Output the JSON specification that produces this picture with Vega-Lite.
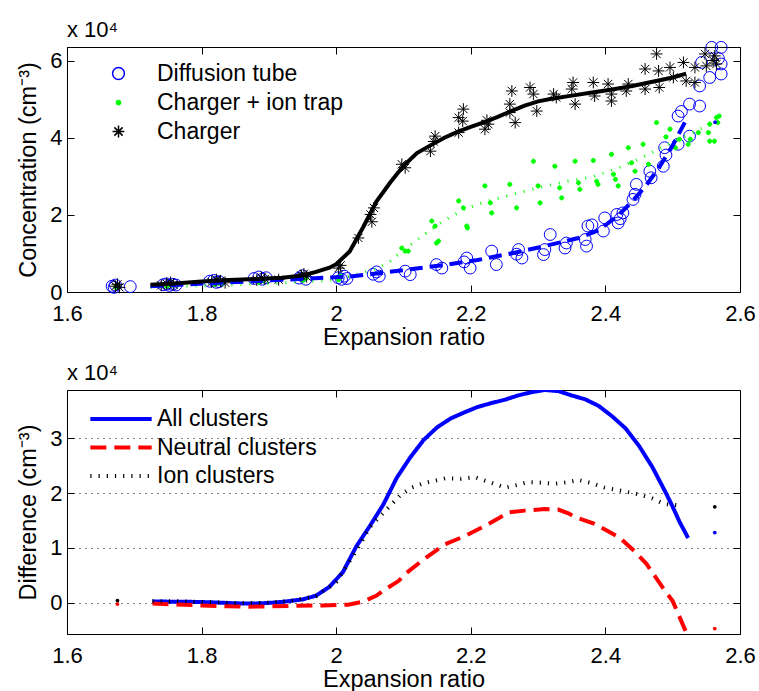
{
  "$schema": "https://vega.github.io/schema/vega-lite/v6.json",
  "padding": {"left": 16, "top": 18, "right": 5, "bottom": 0},
  "bounds": "flush",
  "spacing": 98,
  "resolve": {
    "scale": {"stroke": "independent", "fill": "independent", "shape": "independent", "color": "independent", "strokeDash": "independent", "size": "independent"},
    "legend": {"stroke": "independent", "fill": "independent", "shape": "independent", "color": "independent", "strokeDash": "independent", "size": "independent"}
  },
  "config": {
    "font": "Liberation Sans",
    "view": {"stroke": "black", "strokeWidth": 1},
    "axis": {"domainColor": "black", "tickColor": "black", "labelColor": "black", "titleColor": "black", "labelFontSize": 22, "titleFontSize": 23.5, "titleFontWeight": "normal", "labelFont": "Liberation Sans", "titleFont": "Liberation Sans", "tickSize": -7, "grid": false, "labelPadding": 18, "labelFlush": false, "labelOverlap": false},
    "title": {"fontSize": 22, "fontWeight": "normal", "font": "Liberation Sans", "anchor": "start", "frame": "group", "offset": -3, "color": "black"},
    "legend": {"labelFontSize": 23, "labelFont": "Liberation Sans", "labelColor": "black", "padding": 0, "labelLimit": 0}
  },
  "datasets": {
    "fits": [
      {"series": "Charger", "x": 1.724, "y": 1900}, {"series": "Charger", "x": 1.76, "y": 2200}, {"series": "Charger", "x": 1.8, "y": 2700}, {"series": "Charger", "x": 1.84, "y": 3100}, {"series": "Charger", "x": 1.88, "y": 3400}, {"series": "Charger", "x": 1.92, "y": 3700}, {"series": "Charger", "x": 1.95, "y": 4300}, {"series": "Charger", "x": 1.97, "y": 5200}, {"series": "Charger", "x": 1.99, "y": 6300}, {"series": "Charger", "x": 2.0, "y": 7200}, {"series": "Charger", "x": 2.02, "y": 10500}, {"series": "Charger", "x": 2.04, "y": 16800}, {"series": "Charger", "x": 2.06, "y": 23500}, {"series": "Charger", "x": 2.08, "y": 28300}, {"series": "Charger", "x": 2.1, "y": 32700}, {"series": "Charger", "x": 2.12, "y": 36000}, {"series": "Charger", "x": 2.14, "y": 38000}, {"series": "Charger", "x": 2.16, "y": 39900}, {"series": "Charger", "x": 2.18, "y": 41500}, {"series": "Charger", "x": 2.2, "y": 42800}, {"series": "Charger", "x": 2.22, "y": 44000}, {"series": "Charger", "x": 2.24, "y": 45400}, {"series": "Charger", "x": 2.26, "y": 46900}, {"series": "Charger", "x": 2.28, "y": 48300}, {"series": "Charger", "x": 2.3, "y": 49400}, {"series": "Charger", "x": 2.32, "y": 50100}, {"series": "Charger", "x": 2.35, "y": 50900}, {"series": "Charger", "x": 2.38, "y": 51700}, {"series": "Charger", "x": 2.41, "y": 52500}, {"series": "Charger", "x": 2.44, "y": 53400}, {"series": "Charger", "x": 2.47, "y": 54500}, {"series": "Charger", "x": 2.5, "y": 55600}, {"series": "Charger", "x": 2.52, "y": 56600},
      {"series": "Diffusion tube", "x": 1.724, "y": 1500}, {"series": "Diffusion tube", "x": 1.78, "y": 2000}, {"series": "Diffusion tube", "x": 1.84, "y": 2500}, {"series": "Diffusion tube", "x": 1.9, "y": 3000}, {"series": "Diffusion tube", "x": 1.96, "y": 3500}, {"series": "Diffusion tube", "x": 2.02, "y": 4000}, {"series": "Diffusion tube", "x": 2.06, "y": 4800}, {"series": "Diffusion tube", "x": 2.11, "y": 5900}, {"series": "Diffusion tube", "x": 2.16, "y": 7000}, {"series": "Diffusion tube", "x": 2.21, "y": 8300}, {"series": "Diffusion tube", "x": 2.26, "y": 10000}, {"series": "Diffusion tube", "x": 2.31, "y": 11900}, {"series": "Diffusion tube", "x": 2.36, "y": 14000}, {"series": "Diffusion tube", "x": 2.39, "y": 16000}, {"series": "Diffusion tube", "x": 2.42, "y": 20000}, {"series": "Diffusion tube", "x": 2.44, "y": 23500}, {"series": "Diffusion tube", "x": 2.46, "y": 27500}, {"series": "Diffusion tube", "x": 2.48, "y": 32300}, {"series": "Diffusion tube", "x": 2.5, "y": 38000}, {"series": "Diffusion tube", "x": 2.523, "y": 45600},
      {"series": "Charger + ion trap", "x": 1.724, "y": 1300}, {"series": "Charger + ion trap", "x": 1.76, "y": 1450}, {"series": "Charger + ion trap", "x": 1.8, "y": 1600}, {"series": "Charger + ion trap", "x": 1.84, "y": 1850}, {"series": "Charger + ion trap", "x": 1.88, "y": 2100}, {"series": "Charger + ion trap", "x": 1.92, "y": 2350}, {"series": "Charger + ion trap", "x": 1.95, "y": 2600}, {"series": "Charger + ion trap", "x": 1.98, "y": 2900}, {"series": "Charger + ion trap", "x": 2.0, "y": 3300}, {"series": "Charger + ion trap", "x": 2.03, "y": 4500}, {"series": "Charger + ion trap", "x": 2.06, "y": 6000}, {"series": "Charger + ion trap", "x": 2.08, "y": 8000}, {"series": "Charger + ion trap", "x": 2.1, "y": 10800}, {"series": "Charger + ion trap", "x": 2.13, "y": 14800}, {"series": "Charger + ion trap", "x": 2.16, "y": 18500}, {"series": "Charger + ion trap", "x": 2.19, "y": 21400}, {"series": "Charger + ion trap", "x": 2.22, "y": 23300}, {"series": "Charger + ion trap", "x": 2.26, "y": 25200}, {"series": "Charger + ion trap", "x": 2.3, "y": 27000}, {"series": "Charger + ion trap", "x": 2.34, "y": 28600}, {"series": "Charger + ion trap", "x": 2.38, "y": 29800}, {"series": "Charger + ion trap", "x": 2.42, "y": 32200}, {"series": "Charger + ion trap", "x": 2.45, "y": 34500}, {"series": "Charger + ion trap", "x": 2.48, "y": 37100}, {"series": "Charger + ion trap", "x": 2.51, "y": 39700}, {"series": "Charger + ion trap", "x": 2.54, "y": 42200}, {"series": "Charger + ion trap", "x": 2.565, "y": 44000}
    ],
    "scatter": [
      {"series": "Diffusion tube", "x": 1.667, "y": 1500}, {"series": "Diffusion tube", "x": 1.672, "y": 1800}, {"series": "Diffusion tube", "x": 1.694, "y": 1400}, {"series": "Diffusion tube", "x": 1.67, "y": 1200}, {"series": "Diffusion tube", "x": 1.743, "y": 1900}, {"series": "Diffusion tube", "x": 1.748, "y": 2100}, {"series": "Diffusion tube", "x": 1.752, "y": 1700}, {"series": "Diffusion tube", "x": 1.757, "y": 2000}, {"series": "Diffusion tube", "x": 1.762, "y": 1800}, {"series": "Diffusion tube", "x": 1.812, "y": 2800}, {"series": "Diffusion tube", "x": 1.818, "y": 3000}, {"series": "Diffusion tube", "x": 1.822, "y": 2500}, {"series": "Diffusion tube", "x": 1.826, "y": 2700}, {"series": "Diffusion tube", "x": 1.878, "y": 3500}, {"series": "Diffusion tube", "x": 1.885, "y": 3900}, {"series": "Diffusion tube", "x": 1.89, "y": 3300}, {"series": "Diffusion tube", "x": 1.896, "y": 3700}, {"series": "Diffusion tube", "x": 1.945, "y": 3600}, {"series": "Diffusion tube", "x": 1.95, "y": 4200}, {"series": "Diffusion tube", "x": 1.955, "y": 3300}, {"series": "Diffusion tube", "x": 2.003, "y": 3700}, {"series": "Diffusion tube", "x": 2.008, "y": 3300}, {"series": "Diffusion tube", "x": 2.012, "y": 4100}, {"series": "Diffusion tube", "x": 2.016, "y": 3500}, {"series": "Diffusion tube", "x": 2.055, "y": 4600}, {"series": "Diffusion tube", "x": 2.06, "y": 5200}, {"series": "Diffusion tube", "x": 2.064, "y": 4100}, {"series": "Diffusion tube", "x": 2.1025, "y": 5400}, {"series": "Diffusion tube", "x": 2.11, "y": 4500}, {"series": "Diffusion tube", "x": 2.149, "y": 7100}, {"series": "Diffusion tube", "x": 2.157, "y": 6200}, {"series": "Diffusion tube", "x": 2.194, "y": 8800}, {"series": "Diffusion tube", "x": 2.199, "y": 6200}, {"series": "Diffusion tube", "x": 2.19, "y": 7800}, {"series": "Diffusion tube", "x": 2.231, "y": 10600}, {"series": "Diffusion tube", "x": 2.238, "y": 7100}, {"series": "Diffusion tube", "x": 2.271, "y": 11000}, {"series": "Diffusion tube", "x": 2.276, "y": 8800}, {"series": "Diffusion tube", "x": 2.268, "y": 9800}, {"series": "Diffusion tube", "x": 2.308, "y": 9700}, {"series": "Diffusion tube", "x": 2.31, "y": 11000}, {"series": "Diffusion tube", "x": 2.318, "y": 14900}, {"series": "Diffusion tube", "x": 2.34, "y": 11400}, {"series": "Diffusion tube", "x": 2.342, "y": 12700}, {"series": "Diffusion tube", "x": 2.37, "y": 13600}, {"series": "Diffusion tube", "x": 2.372, "y": 11900}, {"series": "Diffusion tube", "x": 2.374, "y": 17100}, {"series": "Diffusion tube", "x": 2.38, "y": 17400}, {"series": "Diffusion tube", "x": 2.397, "y": 15800}, {"series": "Diffusion tube", "x": 2.399, "y": 19200}, {"series": "Diffusion tube", "x": 2.417, "y": 20100}, {"series": "Diffusion tube", "x": 2.419, "y": 17900}, {"series": "Diffusion tube", "x": 2.426, "y": 20500}, {"series": "Diffusion tube", "x": 2.422, "y": 19000}, {"series": "Diffusion tube", "x": 2.446, "y": 27900}, {"series": "Diffusion tube", "x": 2.444, "y": 25300}, {"series": "Diffusion tube", "x": 2.441, "y": 24000}, {"series": "Diffusion tube", "x": 2.466, "y": 31300}, {"series": "Diffusion tube", "x": 2.468, "y": 29600}, {"series": "Diffusion tube", "x": 2.486, "y": 32600}, {"series": "Diffusion tube", "x": 2.488, "y": 37400}, {"series": "Diffusion tube", "x": 2.49, "y": 35500}, {"series": "Diffusion tube", "x": 2.508, "y": 38300}, {"series": "Diffusion tube", "x": 2.508, "y": 45600}, {"series": "Diffusion tube", "x": 2.525, "y": 40400}, {"series": "Diffusion tube", "x": 2.525, "y": 48700}, {"series": "Diffusion tube", "x": 2.54, "y": 48200}, {"series": "Diffusion tube", "x": 2.54, "y": 53400}, {"series": "Diffusion tube", "x": 2.555, "y": 55600}, {"series": "Diffusion tube", "x": 2.558, "y": 63400}, {"series": "Diffusion tube", "x": 2.572, "y": 63400}, {"series": "Diffusion tube", "x": 2.572, "y": 59100}, {"series": "Diffusion tube", "x": 2.572, "y": 56500}, {"series": "Diffusion tube", "x": 2.543, "y": 59500}, {"series": "Diffusion tube", "x": 2.568, "y": 60500}, {"series": "Diffusion tube", "x": 2.513, "y": 46800},
      {"series": "Charger + ion trap", "x": 1.672, "y": 1300}, {"series": "Charger + ion trap", "x": 1.676, "y": 1500}, {"series": "Charger + ion trap", "x": 1.748, "y": 1500}, {"series": "Charger + ion trap", "x": 1.755, "y": 1700}, {"series": "Charger + ion trap", "x": 1.82, "y": 2000}, {"series": "Charger + ion trap", "x": 1.826, "y": 2300}, {"series": "Charger + ion trap", "x": 1.885, "y": 2600}, {"series": "Charger + ion trap", "x": 1.892, "y": 2900}, {"series": "Charger + ion trap", "x": 1.95, "y": 3100}, {"series": "Charger + ion trap", "x": 1.955, "y": 3500}, {"series": "Charger + ion trap", "x": 2.0036, "y": 3200}, {"series": "Charger + ion trap", "x": 2.0066, "y": 4100}, {"series": "Charger + ion trap", "x": 2.0975, "y": 11400}, {"series": "Charger + ion trap", "x": 2.1025, "y": 10600}, {"series": "Charger + ion trap", "x": 2.107, "y": 10600}, {"series": "Charger + ion trap", "x": 2.142, "y": 18400}, {"series": "Charger + ion trap", "x": 2.147, "y": 17100}, {"series": "Charger + ion trap", "x": 2.149, "y": 12700}, {"series": "Charger + ion trap", "x": 2.152, "y": 13200}, {"series": "Charger + ion trap", "x": 2.182, "y": 23600}, {"series": "Charger + ion trap", "x": 2.189, "y": 21800}, {"series": "Charger + ion trap", "x": 2.194, "y": 17100}, {"series": "Charger + ion trap", "x": 2.195, "y": 16600}, {"series": "Charger + ion trap", "x": 2.221, "y": 27500}, {"series": "Charger + ion trap", "x": 2.229, "y": 23100}, {"series": "Charger + ion trap", "x": 2.231, "y": 20500}, {"series": "Charger + ion trap", "x": 2.258, "y": 27900}, {"series": "Charger + ion trap", "x": 2.268, "y": 21800}, {"series": "Charger + ion trap", "x": 2.293, "y": 33900}, {"series": "Charger + ion trap", "x": 2.3, "y": 27500}, {"series": "Charger + ion trap", "x": 2.303, "y": 23100}, {"series": "Charger + ion trap", "x": 2.325, "y": 32600}, {"series": "Charger + ion trap", "x": 2.332, "y": 27000}, {"series": "Charger + ion trap", "x": 2.335, "y": 24400}, {"series": "Charger + ion trap", "x": 2.355, "y": 33900}, {"series": "Charger + ion trap", "x": 2.36, "y": 28300}, {"series": "Charger + ion trap", "x": 2.362, "y": 26600}, {"series": "Charger + ion trap", "x": 2.382, "y": 34100}, {"series": "Charger + ion trap", "x": 2.387, "y": 28700}, {"series": "Charger + ion trap", "x": 2.389, "y": 27900}, {"series": "Charger + ion trap", "x": 2.409, "y": 35700}, {"series": "Charger + ion trap", "x": 2.412, "y": 30500}, {"series": "Charger + ion trap", "x": 2.415, "y": 29200}, {"series": "Charger + ion trap", "x": 2.419, "y": 27500}, {"series": "Charger + ion trap", "x": 2.434, "y": 37400}, {"series": "Charger + ion trap", "x": 2.439, "y": 33500}, {"series": "Charger + ion trap", "x": 2.444, "y": 31300}, {"series": "Charger + ion trap", "x": 2.456, "y": 38300}, {"series": "Charger + ion trap", "x": 2.464, "y": 33100}, {"series": "Charger + ion trap", "x": 2.476, "y": 43900}, {"series": "Charger + ion trap", "x": 2.49, "y": 40200}, {"series": "Charger + ion trap", "x": 2.496, "y": 42200}, {"series": "Charger + ion trap", "x": 2.504, "y": 37400}, {"series": "Charger + ion trap", "x": 2.51, "y": 39600}, {"series": "Charger + ion trap", "x": 2.523, "y": 38300}, {"series": "Charger + ion trap", "x": 2.526, "y": 39600}, {"series": "Charger + ion trap", "x": 2.538, "y": 41300}, {"series": "Charger + ion trap", "x": 2.553, "y": 41300}, {"series": "Charger + ion trap", "x": 2.555, "y": 43500}, {"series": "Charger + ion trap", "x": 2.555, "y": 39100}, {"series": "Charger + ion trap", "x": 2.562, "y": 39100}, {"series": "Charger + ion trap", "x": 2.565, "y": 45200}, {"series": "Charger + ion trap", "x": 2.567, "y": 43900}, {"series": "Charger + ion trap", "x": 2.569, "y": 45600},
      {"series": "Charger", "x": 1.672, "y": 1500}, {"series": "Charger", "x": 1.675, "y": 2000}, {"series": "Charger", "x": 1.678, "y": 1200}, {"series": "Charger", "x": 1.74, "y": 1700}, {"series": "Charger", "x": 1.748, "y": 2200}, {"series": "Charger", "x": 1.754, "y": 2500}, {"series": "Charger", "x": 1.758, "y": 1900}, {"series": "Charger", "x": 1.815, "y": 2600}, {"series": "Charger", "x": 1.822, "y": 3200}, {"series": "Charger", "x": 1.828, "y": 2900}, {"series": "Charger", "x": 1.835, "y": 2400}, {"series": "Charger", "x": 1.882, "y": 3100}, {"series": "Charger", "x": 1.889, "y": 3700}, {"series": "Charger", "x": 1.894, "y": 3400}, {"series": "Charger", "x": 1.9145, "y": 3200}, {"series": "Charger", "x": 1.948, "y": 4300}, {"series": "Charger", "x": 1.952, "y": 4700}, {"series": "Charger", "x": 1.956, "y": 4000}, {"series": "Charger", "x": 2.0036, "y": 6200}, {"series": "Charger", "x": 2.0066, "y": 6900}, {"series": "Charger", "x": 2.033, "y": 14000}, {"series": "Charger", "x": 2.051, "y": 20100}, {"series": "Charger", "x": 2.056, "y": 21800}, {"series": "Charger", "x": 2.053, "y": 18200}, {"series": "Charger", "x": 2.0975, "y": 33100}, {"series": "Charger", "x": 2.1025, "y": 32200}, {"series": "Charger", "x": 2.14, "y": 36500}, {"series": "Charger", "x": 2.147, "y": 40400}, {"series": "Charger", "x": 2.145, "y": 39000}, {"series": "Charger", "x": 2.182, "y": 45200}, {"series": "Charger", "x": 2.189, "y": 47400}, {"series": "Charger", "x": 2.188, "y": 44300}, {"series": "Charger", "x": 2.182, "y": 41300}, {"series": "Charger", "x": 2.221, "y": 42200}, {"series": "Charger", "x": 2.226, "y": 43500}, {"series": "Charger", "x": 2.224, "y": 44500}, {"series": "Charger", "x": 2.261, "y": 52100}, {"series": "Charger", "x": 2.258, "y": 48700}, {"series": "Charger", "x": 2.258, "y": 46500}, {"series": "Charger", "x": 2.266, "y": 43900}, {"series": "Charger", "x": 2.288, "y": 53000}, {"series": "Charger", "x": 2.293, "y": 51300}, {"series": "Charger", "x": 2.298, "y": 46900}, {"series": "Charger", "x": 2.323, "y": 51300}, {"series": "Charger", "x": 2.327, "y": 50400}, {"series": "Charger", "x": 2.352, "y": 54300}, {"series": "Charger", "x": 2.35, "y": 52600}, {"series": "Charger", "x": 2.355, "y": 48700}, {"series": "Charger", "x": 2.382, "y": 54300}, {"series": "Charger", "x": 2.384, "y": 50800}, {"series": "Charger", "x": 2.404, "y": 53900}, {"series": "Charger", "x": 2.409, "y": 51300}, {"series": "Charger", "x": 2.409, "y": 49500}, {"series": "Charger", "x": 2.434, "y": 53900}, {"series": "Charger", "x": 2.431, "y": 52100}, {"series": "Charger", "x": 2.459, "y": 57800}, {"series": "Charger", "x": 2.459, "y": 52600}, {"series": "Charger", "x": 2.476, "y": 61700}, {"series": "Charger", "x": 2.479, "y": 57300}, {"series": "Charger", "x": 2.48, "y": 53000}, {"series": "Charger", "x": 2.496, "y": 58200}, {"series": "Charger", "x": 2.501, "y": 55600}, {"series": "Charger", "x": 2.516, "y": 59500}, {"series": "Charger", "x": 2.52, "y": 54700}, {"series": "Charger", "x": 2.533, "y": 58200}, {"series": "Charger", "x": 2.533, "y": 54300}, {"series": "Charger", "x": 2.548, "y": 61700}, {"series": "Charger", "x": 2.55, "y": 58600}, {"series": "Charger", "x": 2.5625, "y": 61200}, {"series": "Charger", "x": 2.565, "y": 59100}, {"series": "Charger", "x": 2.56, "y": 60000}
    ],
    "topdots": [
      {"series": "Diffusion tube", "x": 2.563, "y": 44000}
    ],
    "diff": [
      {"series": "All clusters", "x": 1.727, "y": 250}, {"series": "All clusters", "x": 1.75, "y": 200}, {"series": "All clusters", "x": 1.77, "y": 200}, {"series": "All clusters", "x": 1.79, "y": 150}, {"series": "All clusters", "x": 1.81, "y": 100}, {"series": "All clusters", "x": 1.83, "y": 0}, {"series": "All clusters", "x": 1.85, "y": -100}, {"series": "All clusters", "x": 1.87, "y": -150}, {"series": "All clusters", "x": 1.89, "y": -100}, {"series": "All clusters", "x": 1.91, "y": 50}, {"series": "All clusters", "x": 1.93, "y": 300}, {"series": "All clusters", "x": 1.95, "y": 600}, {"series": "All clusters", "x": 1.97, "y": 1300}, {"series": "All clusters", "x": 1.99, "y": 2900}, {"series": "All clusters", "x": 2.01, "y": 5600}, {"series": "All clusters", "x": 2.03, "y": 10300}, {"series": "All clusters", "x": 2.05, "y": 14000}, {"series": "All clusters", "x": 2.07, "y": 17900}, {"series": "All clusters", "x": 2.09, "y": 22800}, {"series": "All clusters", "x": 2.11, "y": 26500}, {"series": "All clusters", "x": 2.13, "y": 29700}, {"series": "All clusters", "x": 2.15, "y": 32000}, {"series": "All clusters", "x": 2.17, "y": 33600}, {"series": "All clusters", "x": 2.19, "y": 34700}, {"series": "All clusters", "x": 2.21, "y": 35700}, {"series": "All clusters", "x": 2.23, "y": 36400}, {"series": "All clusters", "x": 2.25, "y": 37000}, {"series": "All clusters", "x": 2.27, "y": 37800}, {"series": "All clusters", "x": 2.29, "y": 38400}, {"series": "All clusters", "x": 2.31, "y": 38800}, {"series": "All clusters", "x": 2.33, "y": 38600}, {"series": "All clusters", "x": 2.35, "y": 37800}, {"series": "All clusters", "x": 2.37, "y": 37100}, {"series": "All clusters", "x": 2.39, "y": 35900}, {"series": "All clusters", "x": 2.41, "y": 34000}, {"series": "All clusters", "x": 2.43, "y": 31800}, {"series": "All clusters", "x": 2.45, "y": 28600}, {"series": "All clusters", "x": 2.47, "y": 24700}, {"series": "All clusters", "x": 2.49, "y": 20000}, {"series": "All clusters", "x": 2.5, "y": 17500}, {"series": "All clusters", "x": 2.51, "y": 14800}, {"series": "All clusters", "x": 2.523, "y": 11800},
      {"series": "Neutral clusters", "x": 1.727, "y": -130}, {"series": "Neutral clusters", "x": 1.76, "y": -300}, {"series": "Neutral clusters", "x": 1.8, "y": -500}, {"series": "Neutral clusters", "x": 1.84, "y": -650}, {"series": "Neutral clusters", "x": 1.865, "y": -730}, {"series": "Neutral clusters", "x": 1.9, "y": -650}, {"series": "Neutral clusters", "x": 1.94, "y": -550}, {"series": "Neutral clusters", "x": 1.98, "y": -480}, {"series": "Neutral clusters", "x": 2.018, "y": -370}, {"series": "Neutral clusters", "x": 2.04, "y": 200}, {"series": "Neutral clusters", "x": 2.06, "y": 1300}, {"series": "Neutral clusters", "x": 2.07, "y": 2200}, {"series": "Neutral clusters", "x": 2.093, "y": 4000}, {"series": "Neutral clusters", "x": 2.102, "y": 5200}, {"series": "Neutral clusters", "x": 2.13, "y": 7900}, {"series": "Neutral clusters", "x": 2.162, "y": 10700}, {"series": "Neutral clusters", "x": 2.192, "y": 12200}, {"series": "Neutral clusters", "x": 2.221, "y": 14000}, {"series": "Neutral clusters", "x": 2.24, "y": 15300}, {"series": "Neutral clusters", "x": 2.256, "y": 16500}, {"series": "Neutral clusters", "x": 2.28, "y": 16800}, {"series": "Neutral clusters", "x": 2.31, "y": 17100}, {"series": "Neutral clusters", "x": 2.33, "y": 17000}, {"series": "Neutral clusters", "x": 2.345, "y": 16300}, {"series": "Neutral clusters", "x": 2.355, "y": 15600}, {"series": "Neutral clusters", "x": 2.384, "y": 14400}, {"series": "Neutral clusters", "x": 2.4, "y": 13300}, {"series": "Neutral clusters", "x": 2.421, "y": 11900}, {"series": "Neutral clusters", "x": 2.445, "y": 9200}, {"series": "Neutral clusters", "x": 2.461, "y": 7100}, {"series": "Neutral clusters", "x": 2.485, "y": 2800}, {"series": "Neutral clusters", "x": 2.5, "y": 300}, {"series": "Neutral clusters", "x": 2.52, "y": -5400}, {"series": "Neutral clusters", "x": 2.523, "y": -6200},
      {"series": "Ion clusters", "x": 1.727, "y": 300}, {"series": "Ion clusters", "x": 1.77, "y": 250}, {"series": "Ion clusters", "x": 1.81, "y": 100}, {"series": "Ion clusters", "x": 1.85, "y": -50}, {"series": "Ion clusters", "x": 1.89, "y": -50}, {"series": "Ion clusters", "x": 1.93, "y": 300}, {"series": "Ion clusters", "x": 1.97, "y": 1200}, {"series": "Ion clusters", "x": 2.0, "y": 3800}, {"series": "Ion clusters", "x": 2.03, "y": 9500}, {"series": "Ion clusters", "x": 2.05, "y": 13800}, {"series": "Ion clusters", "x": 2.078, "y": 17400}, {"series": "Ion clusters", "x": 2.095, "y": 19600}, {"series": "Ion clusters", "x": 2.112, "y": 21000}, {"series": "Ion clusters", "x": 2.13, "y": 21800}, {"series": "Ion clusters", "x": 2.162, "y": 22700}, {"series": "Ion clusters", "x": 2.185, "y": 22600}, {"series": "Ion clusters", "x": 2.206, "y": 22900}, {"series": "Ion clusters", "x": 2.23, "y": 21900}, {"series": "Ion clusters", "x": 2.251, "y": 21000}, {"series": "Ion clusters", "x": 2.27, "y": 21500}, {"series": "Ion clusters", "x": 2.285, "y": 22000}, {"series": "Ion clusters", "x": 2.305, "y": 21900}, {"series": "Ion clusters", "x": 2.325, "y": 21700}, {"series": "Ion clusters", "x": 2.345, "y": 22000}, {"series": "Ion clusters", "x": 2.36, "y": 22400}, {"series": "Ion clusters", "x": 2.38, "y": 21800}, {"series": "Ion clusters", "x": 2.399, "y": 21000}, {"series": "Ion clusters", "x": 2.42, "y": 20500}, {"series": "Ion clusters", "x": 2.449, "y": 19800}, {"series": "Ion clusters", "x": 2.47, "y": 19000}, {"series": "Ion clusters", "x": 2.488, "y": 18000}, {"series": "Ion clusters", "x": 2.515, "y": 17700}
    ],
    "diffdots": [
      {"series": "Ion clusters", "x": 1.675, "y": 365}, {"series": "Neutral clusters", "x": 1.675, "y": -240},
      {"series": "Ion clusters", "x": 2.5625, "y": 17500}, {"series": "All clusters", "x": 2.5625, "y": 12800}, {"series": "Neutral clusters", "x": 2.5625, "y": -4700}
    ]
  },
  "vconcat": [
    {
      "width": 673,
      "height": 245,
      "title": {"text": "x 10⁴"},
      "resolve": {"axis": {"x": "independent", "y": "independent"}},
      "layer": [
        {
          "data": {"name": "scatter"},
          "mark": {"type": "point", "strokeWidth": 1, "opacity": 1, "size": 140},
          "encoding": {
            "x": {"field": "x", "type": "quantitative", "scale": {"domain": [1.6, 2.6], "nice": false, "zero": false}, "axis": null},
            "y": {"field": "y", "type": "quantitative", "scale": {"domain": [0, 63500], "nice": false}, "axis": null},
            "stroke": {"field": "series", "type": "nominal", "scale": {"domain": ["Diffusion tube", "Charger + ion trap", "Charger"], "range": ["#0000ff", "#00ff00", "#000000"]}, "legend": {"title": null, "orient": "none", "legendX": 40, "legendY": 15, "rowPadding": 5, "labelOffset": 27, "labelFontSize": 23, "symbolSize": 140, "labelLimit": 0}},
            "fill": {"field": "series", "type": "nominal", "scale": {"domain": ["Diffusion tube", "Charger + ion trap", "Charger"], "range": ["transparent", "#00ff00", "transparent"]}, "legend": {"title": null, "orient": "none", "legendX": 40, "legendY": 15, "rowPadding": 5, "labelOffset": 27, "labelFontSize": 23, "symbolSize": 140, "labelLimit": 0}},
            "shape": {"field": "series", "type": "nominal", "scale": {"domain": ["Diffusion tube", "Charger + ion trap", "Charger"], "range": ["circle", "M-0.35,0A0.35,0.35,0,1,0,0.35,0A0.35,0.35,0,1,0,-0.35,0Z", "M-1,0L1,0M0,-1L0,1M-0.7,-0.7L0.7,0.7M-0.7,0.7L0.7,-0.7"]}, "legend": {"title": null, "orient": "none", "legendX": 40, "legendY": 15, "rowPadding": 5, "labelOffset": 27, "labelFontSize": 23, "symbolSize": 140, "labelLimit": 0}}
          }
        },
        {
          "data": {"name": "fits"},
          "transform": [{"filter": "datum.series === 'Charger + ion trap'"}],
          "mark": {"type": "line", "color": "#00ff00", "strokeWidth": 3, "strokeDash": [1, 8], "strokeCap": "butt"},
          "encoding": {
            "x": {"field": "x", "type": "quantitative", "scale": {"domain": [1.6, 2.6], "nice": false, "zero": false}, "axis": null},
            "y": {"field": "y", "type": "quantitative", "scale": {"domain": [0, 63500], "nice": false}, "axis": null}
          }
        },
        {
          "data": {"name": "fits"},
          "transform": [{"filter": "datum.series === 'Diffusion tube'"}],
          "mark": {"type": "line", "color": "#0000ff", "strokeWidth": 4, "strokeDash": [13, 7], "strokeCap": "butt"},
          "encoding": {
            "x": {"field": "x", "type": "quantitative", "scale": {"domain": [1.6, 2.6], "nice": false, "zero": false}, "axis": {"orient": "top", "labels": false, "title": null, "domain": false, "values": [1.6, 1.8, 2.0, 2.2, 2.4, 2.6]}},
            "y": {"field": "y", "type": "quantitative", "scale": {"domain": [0, 63500], "nice": false}, "axis": {"orient": "right", "labels": false, "title": null, "domain": false, "values": [0, 20000, 40000, 60000]}}
          }
        },
        {
          "data": {"name": "fits"},
          "transform": [{"filter": "datum.series === 'Charger'"}],
          "mark": {"type": "line", "color": "#000000", "strokeWidth": 4},
          "encoding": {
            "x": {"field": "x", "type": "quantitative", "scale": {"domain": [1.6, 2.6], "nice": false, "zero": false}, "axis": {"orient": "bottom", "title": "Expansion ratio", "values": [1.6, 1.8, 2.0, 2.2, 2.4, 2.6], "labelExpr": "datum.value == 2 ? '2' : format(datum.value, '.1f')", "titlePadding": 1}},
            "y": {"field": "y", "type": "quantitative", "scale": {"domain": [0, 63500], "nice": false}, "axis": {"orient": "left", "title": "Concentration (cm⁻³)", "values": [0, 20000, 40000, 60000], "labelExpr": "'' + round(datum.value / 10000)", "labelPadding": 12, "titlePadding": 9}}
          }
        },
        {
          "data": {"name": "topdots"},
          "mark": {"type": "circle", "color": "#0000ff", "size": 14, "opacity": 1},
          "encoding": {
            "x": {"field": "x", "type": "quantitative", "scale": {"domain": [1.6, 2.6], "nice": false, "zero": false}, "axis": null},
            "y": {"field": "y", "type": "quantitative", "scale": {"domain": [0, 63500], "nice": false}, "axis": null}
          }
        }
      ]
    },
    {
      "width": 673,
      "height": 244,
      "title": {"text": "x 10⁴", "offset": 5},
      "resolve": {"axis": {"x": "independent", "y": "independent"}},
      "layer": [
        {
          "data": {"name": "diff"},
          "mark": {"type": "line", "strokeWidth": 4, "strokeCap": "butt", "clip": true},
          "encoding": {
            "x": {"field": "x", "type": "quantitative", "scale": {"domain": [1.6, 2.6], "nice": false, "zero": false}, "axis": {"orient": "bottom", "title": "Expansion ratio", "values": [1.6, 1.8, 2.0, 2.2, 2.4, 2.6], "labelExpr": "datum.value == 2 ? '2' : format(datum.value, '.1f')", "titlePadding": 1}},
            "y": {"field": "y", "type": "quantitative", "scale": {"domain": [-5700, 38800], "nice": false, "zero": false}, "axis": {"orient": "left", "title": "Difference (cm⁻³)", "values": [0, 10000, 20000, 30000], "labelExpr": "'' + round(datum.value / 10000)", "labelPadding": 12, "titlePadding": 9, "grid": true, "gridColor": "#000000", "gridDash": [1, 5], "gridOpacity": 1, "gridWidth": 1}},
            "color": {"field": "series", "type": "nominal", "scale": {"domain": ["All clusters", "Neutral clusters", "Ion clusters"], "range": ["#0000ff", "#ff0000", "#000000"]}, "legend": {"title": null, "orient": "none", "legendX": 41, "legendY": 16, "symbolType": "M-2.8,0L2.8,0", "symbolSize": 480, "symbolStrokeWidth": 4, "rowPadding": 3.5, "labelOffset": 23, "labelFontSize": 23, "labelLimit": 0}},
            "strokeDash": {"field": "series", "type": "nominal", "scale": {"domain": ["All clusters", "Neutral clusters", "Ion clusters"], "range": [[1, 0], [16, 8], [1.2, 7]]}, "legend": {"title": null, "orient": "none", "legendX": 41, "legendY": 16, "symbolType": "M-2.8,0L2.8,0", "symbolSize": 480, "symbolStrokeWidth": 4, "rowPadding": 3.5, "labelOffset": 23, "labelFontSize": 23, "labelLimit": 0}}
          }
        },
        {
          "data": {"name": "diffdots"},
          "mark": {"type": "circle", "size": 14, "opacity": 1},
          "encoding": {
            "x": {"field": "x", "type": "quantitative", "scale": {"domain": [1.6, 2.6], "nice": false, "zero": false}, "axis": {"orient": "top", "labels": false, "title": null, "domain": false, "values": [1.6, 1.8, 2.0, 2.2, 2.4, 2.6]}},
            "y": {"field": "y", "type": "quantitative", "scale": {"domain": [-5700, 38800], "nice": false, "zero": false}, "axis": {"orient": "right", "labels": false, "title": null, "domain": false, "values": [0, 10000, 20000, 30000]}},
            "fill": {"field": "series", "type": "nominal", "scale": {"domain": ["All clusters", "Neutral clusters", "Ion clusters"], "range": ["#0000ff", "#ff0000", "#000000"]}, "legend": null}
          }
        }
      ]
    }
  ]
}
